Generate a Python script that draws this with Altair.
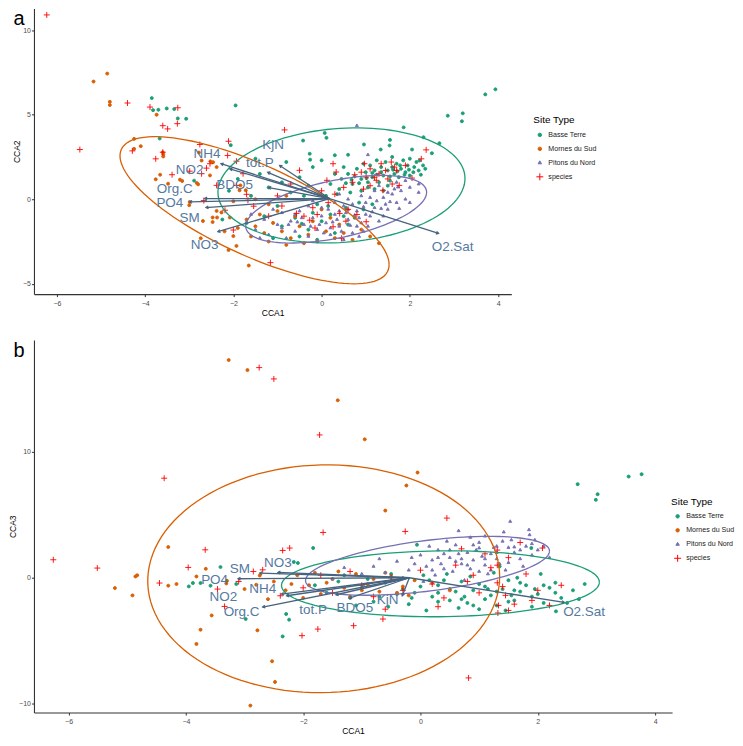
import numpy as np
import pandas as pd
import altair as alt

# ---------------- categories / styling lists ----------------
groups = ["Basse Terre", "Mornes du Sud", "Pitons du Nord", "species"]
group_colors = ["#1B9E77", "#D95F02", "#7570B3", "#FF0000"]
group_shapes = ["circle", "circle", "triangle", "M-2,0L2,0M0,-2L0,2"]
x_ticks = [-6, -4, -2, 0, 2, 4]

# ---------------- panel a (CCA1 vs CCA2) ----------------
a_basse = [(-3.85,5.98),(-3.82,5.27),(-3.7,5.29),(-3.51,5.37),(-3.34,5.33),(-3.26,4.78),(-3.07,4.76),(-3.67,3.59),
           (-1.95,5.55),(-2.06,3.2),(-2.89,1.1),(-2.25,-1.2),(2.86,4.94),(3.2,5.08),(3.18,4.61),(2.67,3.31),(2.31,3.67),
           (1.86,4.25),(1.54,3.18),(1.55,3.51),(1.34,2.94),(0.96,3.24),(0.6,2.63),(0.07,3.92),(0.11,3.63),(-0.27,2.69),
           (-0.26,2.34),(-0.42,3.47),(2.5,2.72),(2.05,2.94),(2.22,2.29),(3.71,6.2),(3.94,6.5),
           (0.45,1.2),(0.6,1.5),(0.7,0.9),(0.8,1.8),(0.9,1.2),(1.0,1.6),(1.05,0.7),(1.1,2.0),(1.15,1.3),(1.2,1.7),(1.3,1.0),
           (1.35,1.9),(1.4,1.4),(1.45,2.2),(1.5,1.7),(1.55,1.1),(1.6,1.9),(1.65,1.5),(1.7,2.1),(1.75,1.3),(1.8,1.8),(1.85,2.3),
           (1.9,1.6),(1.95,2.0),(2.0,1.4),(2.1,1.9),(2.15,2.2),(2.2,1.7),(2.3,2.0),(2.0,2.4),(1.6,2.5),(1.25,2.3),(0.95,2.1),
           (0.5,1.9),(0.3,1.5),(0.2,0.9),(0.4,0.6),(0.65,0.4),(0.9,0.5),(1.2,0.6),(1.4,0.5),(0.75,1.35),(1.05,1.0),(1.5,0.8),
           (0.85,-0.2),(0.55,-0.5),(0.2,-0.9),(-0.1,-0.3),(-0.3,0.8),(-0.5,1.3),(-0.7,0.4),(-0.9,1.0),(-1.2,0.7),(-1.4,1.5),
           (-1.6,0.2),(-1.0,-0.4),(-0.6,-1.1),(-0.9,-1.6),(-1.3,-1.0),(-0.3,-1.8),(0.0,-1.3),(0.3,-2.0),(-0.1,-2.4),(-0.5,-2.2),
           (0.6,-1.5),(-1.1,-2.3),(-1.7,-1.4),(-0.2,1.9),(0.0,2.3),(-0.8,2.2),(-1.5,2.4),(0.3,2.6),(-1.9,1.2),(-2.1,0.5),
           (0.1,0.2),(-0.4,0.2),
           (1.15,1.55),(1.25,1.45),(1.35,1.6),(1.55,1.35),(1.62,1.75),(1.72,1.65),(1.78,2.0),(1.88,1.45),(1.98,1.75),
           (2.08,1.6),(2.25,1.45),(2.35,1.8),(0.55,0.95),(0.85,0.95),(1.02,1.25),(0.68,1.15),(0.35,0.3),(0.15,-0.4),
           (0.5,-1.0),(-0.2,-0.8),(-0.45,-1.45),(0.75,-1.1),(1.15,-0.3),(0.95,-0.6)]
a_mornes = [(-5.17,6.96),(-4.86,7.43),(-4.8,5.76),(-4.8,5.57),(-3.74,5.0),(-4.25,3.57),(-4.1,3.14),(-4.25,2.98),(-3.59,2.53),
            (-3.59,2.65),(-3.66,1.45),(-3.76,1.18),(-3.48,0.92),(-3.21,1.16),(-3.16,1.08),(-2.83,0.96),(-2.8,0.88),(-2.99,-0.16),
            (-3.0,-0.35),(-2.69,-1.29),(-2.74,-2.31),(-2.47,-1.08),(-2.37,-1.08),(-2.47,-1.35),(-2.27,-0.78),(-2.08,-1.08),
            (-2.0,-2.18),(-1.65,-3.92),(-2.11,-3.0),(-1.93,-2.76),(-2.38,-0.69),(-2.0,-0.12),(-1.86,0.53),(-1.72,0.53),
            (-1.84,0.82),(-2.52,2.24),(-2.72,2.29),(-2.78,2.76),(-2.38,1.9),(-2.46,2.19),(-2.53,1.41),(-3.6,2.78),
            (-1.7,-1.2),(-1.5,-1.6),(-1.3,-2.0),(-1.1,-1.4),(-0.9,-1.9),(-0.7,-2.3),(-0.5,-1.6),(-0.3,-2.1),(-0.1,-2.5),
            (0.1,-1.9),(0.3,-2.3),(0.5,-2.0),(0.7,-2.4),(-1.2,-2.5),(-0.8,-2.7),(-0.4,-2.6),(-1.6,-2.2),(-1.4,-0.9),
            (-1.0,-0.7),(-0.6,-1.0),(-0.2,-1.3),(0.2,-1.1),(0.4,-1.5),(0.9,-1.8),(1.1,-2.2),(-1.9,-1.7),(-2.2,-1.9),
            (-1.2,-0.3),(-0.8,0.2),(-1.5,0.0),(0.0,-0.6),(1.3,-2.6)]
a_pitons = [(0.8,4.35),(1.05,2.63),(1.76,-0.55),(1.73,0.72),(2.2,0.4),(2.0,-0.2),
            (-1.5,-1.8),(-1.3,-1.2),(-1.2,-2.1),(-1.0,-1.5),(-0.9,-0.8),(-0.8,-2.3),(-0.7,-1.3),(-0.6,-1.9),(-0.5,-0.7),
            (-0.4,-1.5),(-0.3,-2.2),(-0.2,-1.1),(-0.1,-1.8),(0.0,-0.5),(0.1,-1.4),(0.2,-2.1),(0.3,-0.9),(0.4,-1.6),(0.5,-0.4),
            (0.6,-1.2),(0.7,-2.0),(0.8,-0.7),(0.9,-1.4),(1.0,-0.2),(1.1,-1.0),(1.2,-0.5),(1.3,-1.3),(1.4,0.1),(1.5,-0.6),
            (1.6,0.3),(1.7,-0.2),(1.8,0.5),(1.9,0.0),(2.0,0.7),(1.2,0.5),(0.9,0.2),(0.6,0.0),(0.3,-0.2),(0.0,-1.0),(-0.3,-0.4),
            (-0.6,-0.9),(-0.9,-1.7),(-1.1,-0.6),(0.5,-2.4),(0.2,-1.7),(-0.1,-2.5),(0.8,-1.6),(1.0,-0.9),(0.7,-0.3),(0.4,0.3),
            (1.3,0.8),(1.5,0.4),(1.7,1.0),(1.1,0.1),(-0.2,-0.1),(0.15,-0.6),(-0.45,-1.1),(-0.75,-1.5),(0.55,-0.8),(0.85,-1.1),
            (1.25,-0.1),(0.35,-1.2),(-0.05,-1.5),(1.45,-0.3),(1.65,0.6),(1.9,1.1),(2.2,0.9),(-1.6,-0.9),(-1.4,-2.3),
            (0.95,-1.9),(1.4,-1.0),
            (0.25,-1.35),(0.45,-1.9),(0.65,-1.55),(0.75,-0.95),(0.95,-0.45),(1.15,-0.75),(1.35,-0.55),(1.55,-0.15),
            (0.05,-2.0),(-0.25,-1.6),(-0.55,-1.35),(0.85,-2.2),(1.05,-1.6),(0.4,-0.7),(0.6,-0.6)]
a_species = [(-6.23,10.9),(-5.48,2.94),(-4.40,5.69),(-3.89,5.45),(-3.26,5.41),(-3.27,4.47),(-3.60,4.35),(-3.49,4.16),
             (-4.29,2.86),(-3.76,2.39),(-3.60,2.78),(-3.39,1.45),(-2.76,3.24),(-2.99,1.66),(-2.61,1.84),(-2.53,2.1),
             (-2.11,3.43),(-2.13,2.59),(-1.93,2.25),(-2.67,-0.08),(-2.19,-0.65),(-2.0,-1.82),(-1.93,0.82),(-2.38,0.82),
             (-1.70,0.29),(-2.72,1.51),(-1.78,1.51),(-0.84,4.1),(-0.5,1.71),(-1.67,-0.06),(-1.54,-0.41),(-1.16,-3.75),
             (0.12,1.12),(0.26,2.1),(0.33,1.61),(0.97,2.1),(1.01,1.31),(1.24,1.12),(1.39,0.53),(1.58,2.2),(1.65,1.9),
             (1.76,0.82),(2.26,2.39),(2.37,2.92),(1.01,-1.33),(0.41,-0.84),(-0.57,-0.84),(-0.27,-1.24),(0.26,-1.63),
             (0.45,-2.31),(0.9,1.6),(1.1,1.8),(1.3,1.5),(1.45,1.7),(1.2,1.3),(0.7,1.0),(0.5,0.7),(0.3,0.3),(-0.2,-0.5),
             (-0.4,-1.0),(-0.9,-0.4),(-1.2,-1.0),(0.6,-0.6),(0.8,-0.9),(1.5,1.2),(1.1,0.8),(0.0,0.5),(-0.7,0.9),(-1.0,0.2),
             (1.6,0.9),(-0.1,-0.9),(0.15,-0.2),(1.35,2.1),(0.75,1.45),
             (1.7,1.7),(1.9,2.0),(2.05,1.25),(0.55,-1.3),(-0.15,-1.7),(0.95,0.6)]

a_vars = ["NH4", "NO2", "KjN", "tot.P", "BDO5", "Org.C", "PO4", "SM", "NO3", "O2.Sat"]
a_tip_x = [-2.28, -2.08, -0.95, -1.22, -1.20, -2.65, -2.99, -2.62, -2.35, 2.65]
a_tip_y = [2.10, 1.80, 2.00, 1.59, 0.69, 0.04, -0.16, -0.49, -1.92, -2.02]
a_lab_x = [-2.60, -2.99, -1.10, -1.40, -1.97, -3.33, -3.44, -2.99, -2.65, 2.97]
a_lab_y = [2.69, 1.75, 3.18, 2.16, 0.86, 0.62, -0.22, -1.08, -2.70, -2.80]
a_origin = (0.18, 0.04)
# ellipse parameters: centre x, centre y, half-width, half-height, correlation
a_ellipses = {"Basse Terre": (0.45, 0.82, 2.80, 3.40, 0.12),
              "Mornes du Sud": (-1.52, -0.65, 3.05, 4.35, -0.74),
              "Pitons du Nord": (0.33, -0.59, 2.05, 2.00, 0.50)}

# ---------------- panel b (CCA1 vs CCA3) ----------------
b_basse = [(2.68,7.44),(3.55,8.04),(3.77,8.23),(3.02,6.64),(2.99,6.19),(1.89,2.36),(2.31,-2.67),(-0.06,2.62),(-3.41,0.85),
           (-3.95,-0.69),(-3.88,-0.42),(-3.75,-0.42),(-3.58,-0.63),(-3.14,-0.5),(-2.98,-3.28),(-2.29,-2.88),(-2.24,-3.33),
           (-2.35,-4.66),(-2.16,1.25),(-1.83,2.36),(-2.09,1.17),
           (-1.8,-0.6),(-1.6,-1.2),(-1.4,-0.3),(-1.2,-1.6),(-1.0,-0.8),(-0.8,-1.9),(-0.6,-0.4),(-0.4,-1.3),(-0.2,-2.1),
           (0.0,-0.7),(0.2,-1.5),(0.4,-0.2),(0.6,-1.1),(0.8,-2.0),(1.0,-0.5),(1.2,-1.4),(1.4,-0.9),(1.6,-1.8),(1.8,-0.6),
           (2.0,-1.3),(2.2,-0.8),(2.4,-1.6),(2.6,-1.0),(0.1,-2.6),(0.5,-1.8),(0.9,-1.0),(1.3,-2.2),(1.7,-1.1),(2.1,-2.0),
           (-0.3,-0.9),(-0.7,-1.5),(-1.1,-2.2),(0.3,-0.6),(0.7,-0.3),(1.1,-1.7),(1.5,-0.2),(1.9,-1.5),(2.3,-0.4),(0.05,0.2),
           (0.45,0.3),(0.85,0.1),(1.25,0.4),(1.65,0.0),(2.05,0.3),(-0.5,0.3),(-0.9,-0.1),(-1.3,0.2),(1.0,-2.5),(1.45,-2.6),
           (0.65,-2.4),(2.7,-1.7),(2.8,-0.5),(1.35,0.9),(0.3,-1.2),(0.75,-1.5),(1.15,-0.9),(1.55,-1.4),(1.95,-0.9),
           (-0.15,-1.6),(-0.55,-2.3),
           (0.3,-1.9),(0.5,-0.9),(0.7,-1.7),(0.9,-2.2),(1.1,-0.7),(1.3,-1.1),(1.5,-1.9),(1.7,-0.4),(1.9,-2.3),(2.1,-0.6),
           (2.3,-1.2),(2.5,-2.0),(0.15,-0.2),(-0.1,-1.2),(1.6,-1.0)]
b_mornes = [(-3.27,17.3),(-2.95,16.5),(-4.91,-1.4),(-5.21,-0.82),(-4.86,0.1),(-4.83,0.2),(-4.3,2.44),(-4.3,-0.63),
            (-4.16,-0.5),(-3.82,0.1),(-3.66,0.71),(-3.82,-5.26),(-3.75,-4.13),(-3.56,-2.99),(-3.3,-0.24),(-3.31,-0.45),
            (-2.53,-6.64),(-2.48,-8.28),(-2.78,-4.18),(-2.9,-10.16),(-2.8,-0.56),(-2.74,0.18),(-1.41,14.1),(-0.95,11.0),
            (-0.05,8.36),(-0.24,7.33),(-0.6,5.34),
            (-2.5,-0.3),(-2.3,-1.0),(-2.1,0.2),(-1.9,-0.6),(-1.7,-1.3),(-1.5,-0.1),(-1.3,-0.8),(-1.1,0.3),(-0.9,-0.5),
            (-0.7,-1.1),(-0.5,0.1),(-0.3,-0.7),(-0.1,-0.2),(-1.6,-0.4),(-1.2,-1.5),(-0.8,-0.1),(-0.4,-1.2),(-2.0,-1.6),
            (-1.4,0.5),(-0.6,0.4),(0.2,-0.4),(0.5,-1.0),(-1.8,0.4),(-2.2,-0.5),(-1.0,-1.0),(-0.2,-1.4),(-2.6,-1.7),(-3.0,-0.9)]
b_pitons = [(1.53,4.47),(1.85,3.81),(0.65,3.73),(1.42,3.63),(1.6,2.44),(1.3,2.5),(1.0,2.36),(1.86,3.41),
            (-1.0,0.3),(-0.8,0.9),(-0.6,0.4),(-0.4,1.3),(-0.2,0.6),(0.0,1.8),(0.1,0.9),(0.2,1.4),(0.3,2.2),(0.4,0.7),
            (0.5,1.6),(0.6,2.6),(0.7,1.1),(0.8,2.0),(0.9,1.4),(1.0,2.8),(1.1,1.0),(1.2,1.9),(1.3,1.5),(1.4,2.9),(1.5,1.2),
            (1.6,2.0),(1.7,1.5),(1.8,2.5),(1.9,1.8),(2.0,2.2),(0.25,0.2),(0.55,0.5),(0.85,0.7),(1.15,0.3),(1.45,0.6),
            (-0.3,0.0),(-0.5,-0.2),(0.05,-0.3),(0.75,-0.2),(1.75,0.9),(0.35,1.1),(0.65,1.9),(0.95,2.2),(1.25,2.4),(0.15,2.5),
            (-0.15,1.6),(-0.7,1.5),(-1.3,0.8),(-1.5,-0.1),(0.45,2.9),(0.85,3.2),(1.1,3.3),(1.55,3.0),(1.05,1.7),(1.35,1.1),
            (0.6,1.3),(-0.1,1.1),(2.2,1.6),(1.95,3.0),
            (0.3,1.6),(0.5,2.2),(0.7,1.5),(0.9,2.6),(1.1,1.5),(1.3,2.0),(1.5,2.4),(1.7,2.2),(0.2,0.6),(0.8,1.0),(1.2,0.6),
            (1.9,2.7),(2.1,2.5),(0.4,1.9),(1.0,0.5)]
b_species = [(-6.26,1.43),(-5.51,0.77),(-4.37,7.91),(-4.45,-0.42),(-3.96,0.82),(-3.67,2.22),(-3.46,-0.9),(-3.34,-2.28),
             (-2.85,0.5),(-2.69,0.63),(-2.75,16.7),(-2.5,15.8),(-2.35,2.17),(-2.23,2.36),(-2.39,-1.43),(-1.72,11.35),
             (0.45,4.74),(-0.26,3.68),(2.08,2.36),(1.9,-1.8),(1.32,-2.8),(-0.64,-3.28),(-1.66,3.6),(-1.14,-3.81),
             (-1.75,-4.08),(-2.02,-4.6),(0.82,-7.96),(-3.1,-0.3),
             (-2.0,-0.8),(-1.7,0.2),(-1.5,-1.2),(-1.2,0.5),(-1.0,-0.6),(-0.8,-1.5),(-0.5,0.0),(-0.3,-1.0),(0.0,0.6),
             (0.2,-0.5),(0.4,-1.6),(0.6,1.0),(0.8,-0.3),(1.0,-1.2),(1.2,0.8),(1.4,-0.7),(1.6,-2.1),(1.8,0.3),(2.0,-1.0),
             (2.2,-2.2),(2.4,-0.6),(1.1,1.9),(0.7,2.3),(1.5,-2.6),(0.3,-2.3),(-0.6,-2.5),(1.5,1.6),(1.7,2.8),(0.9,0.2),
             (1.45,-1.4),(1.31,2.2),(1.31,1.0),(1.31,-0.4),(1.33,-2.2)]

b_vars = ["SM", "NO3", "PO4", "NH4", "NO2", "Org.C", "tot.P", "BDO5", "KjN", "O2.Sat"]
b_tip_x = [-2.74, -2.43, -3.11, -2.37, -2.28, -2.69, -1.44, -1.21, -0.31, 2.45]
b_tip_y = [0.37, 0.42, -0.08, -1.30, -1.43, -2.33, -1.35, -1.61, -1.43, -1.96]
b_lab_x = [-3.08, -2.43, -3.51, -2.69, -3.36, -3.05, -1.83, -1.12, -0.56, 2.79]
b_lab_y = [0.69, 1.17, -0.16, -0.87, -1.53, -2.72, -2.54, -2.40, -1.75, -2.75]
b_origin = (-0.19, 0.0)
b_ellipses = {"Basse Terre": (0.34, -0.48, 2.71, 2.62, 0.05),
              "Mornes du Sud": (-1.65, -0.08, 3.00, 9.05, 0.02),
              "Pitons du Nord": (0.12, 0.95, 2.08, 2.34, 0.50)}

ARROW_COL = "#46647F"
LABEL_COL = "#54799F"
FONT = "Liberation Sans"


def points_df(lists):
    rows = []
    for g, lst in zip(groups, lists):
        for x, y in lst:
            rows.append({"x": x, "y": y, "grp": g})
    return pd.DataFrame(rows)


def ellipse_df(params, n=120):
    cx, cy, w, h, rho = params
    t = np.linspace(0, 2 * np.pi, n)
    return pd.DataFrame({"x": cx + w * np.cos(t),
                         "y": cy + h * (rho * np.cos(t) + np.sqrt(1 - rho ** 2) * np.sin(t)),
                         "i": np.arange(n)})


def panel(pts, ells, names, tx, ty, lx, ly, origin, xdom, ydom, yticks, ytitle,
          width, height, letter, legx, legy):
    pxx = width / (xdom[1] - xdom[0])
    pyy = height / (ydom[1] - ydom[0])
    arr = pd.DataFrame({"name": names, "x": origin[0], "y": origin[1],
                        "x2": tx, "y2": ty, "lx": lx, "ly": ly})
    arr["ang"] = np.degrees(np.arctan2(-(arr["y2"] - origin[1]) * pyy,
                                       (arr["x2"] - origin[0]) * pxx)) % 360

    xs = alt.Scale(domain=xdom, nice=False, zero=False)
    ys = alt.Scale(domain=ydom, nice=False, zero=False)
    xax = alt.Axis(values=x_ticks, title="CCA1", labelPadding=2.5, titlePadding=2)
    yax = alt.Axis(values=yticks, title=ytitle)

    def X(f):
        return alt.X(f + ":Q", scale=xs, axis=xax)

    def Y(f):
        return alt.Y(f + ":Q", scale=ys, axis=yax)

    leg = alt.Legend(title="Site Type", orient="none", legendX=legx, legendY=legy,
                     symbolSize=12, symbolStrokeWidth=1, symbolOffset=3,
                     labelFontSize=7.1, titleFontSize=10, titleFontWeight="normal",
                     titleColor="#000000", labelColor="#1a1a1a", rowPadding=5,
                     titlePadding=6, labelOffset=5, labelFont=FONT, titleFont=FONT)
    dom = alt.Scale(domain=groups, range=group_colors)

    pts_layer = alt.Chart(pts).mark_point(filled=True, size=9, strokeWidth=0.9, opacity=1).encode(
        x=X("x"), y=Y("y"),
        fill=alt.Fill("grp:N", scale=dom, legend=leg),
        stroke=alt.Stroke("grp:N", scale=dom, legend=leg),
        shape=alt.Shape("grp:N", scale=alt.Scale(domain=groups, range=group_shapes), legend=leg),
    )
    layers = [pts_layer]
    for g, col in zip(groups[:3], group_colors[:3]):
        layers.append(alt.Chart(ellipse_df(ells[g])).mark_line(color=col, strokeWidth=1.3).encode(
            x=X("x"), y=Y("y"), order="i:Q"))
    layers.append(alt.Chart(arr).mark_rule(color=ARROW_COL, strokeWidth=1.3).encode(
        x=X("x"), y=Y("y"), x2="x2:Q", y2="y2:Q"))
    layers.append(alt.Chart(arr).mark_point(shape="M-1.2,-0.7L0,0L-1.2,0.7", filled=False, size=16,
                                            color=ARROW_COL, strokeWidth=1.3, opacity=1).encode(
        x=X("x2"), y=Y("y2"), angle=alt.Angle("ang:Q", scale=None)))
    layers.append(alt.Chart(arr).mark_text(fontSize=13.5, color=LABEL_COL, font=FONT).encode(
        x=X("lx"), y=Y("ly"), text="name:N"))
    layers.append(alt.Chart(pd.DataFrame({"t": [letter]})).mark_text(
        fontSize=20, font=FONT, color="#000000", align="center", baseline="alphabetic").encode(
        text="t:N", x=alt.value(-15), y=alt.value(17)))
    return alt.layer(*layers).properties(width=width, height=height)


pa = panel(points_df([a_basse, a_mornes, a_pitons, a_species]), a_ellipses, a_vars,
           a_tip_x, a_tip_y, a_lab_x, a_lab_y, a_origin, [-6.52, 4.30], [-5.61, 11.28],
           [-5, 0, 5, 10], "CCA2", 478, 286, "a", 500, 107)
pb = panel(points_df([b_basse, b_mornes, b_pitons, b_species]), b_ellipses, b_vars,
           b_tip_x, b_tip_y, b_lab_x, b_lab_y, b_origin, [-6.59, 4.29], [-10.71, 18.89],
           [-10, 0, 10], "CCA3", 639, 373, "b", 638, 157)

chart = alt.vconcat(pa, pb, spacing=23, padding=0).resolve_scale(
    x="independent", y="independent", fill="independent", stroke="independent", shape="independent"
).resolve_legend(fill="independent", stroke="independent", shape="independent").configure_view(
    stroke=None
).configure_axis(
    grid=False, domainColor="#333333", domainWidth=1.1, tickColor="#333333", tickSize=2.5,
    labelColor="#4D4D4D", labelFontSize=7, labelFont=FONT, labelPadding=1,
    titleFont=FONT, titleFontSize=8.5, titleFontWeight="normal", titleColor="#000000", titlePadding=1.5
)

chart.save("out.html", embed_options={"renderer": "svg", "actions": False})
